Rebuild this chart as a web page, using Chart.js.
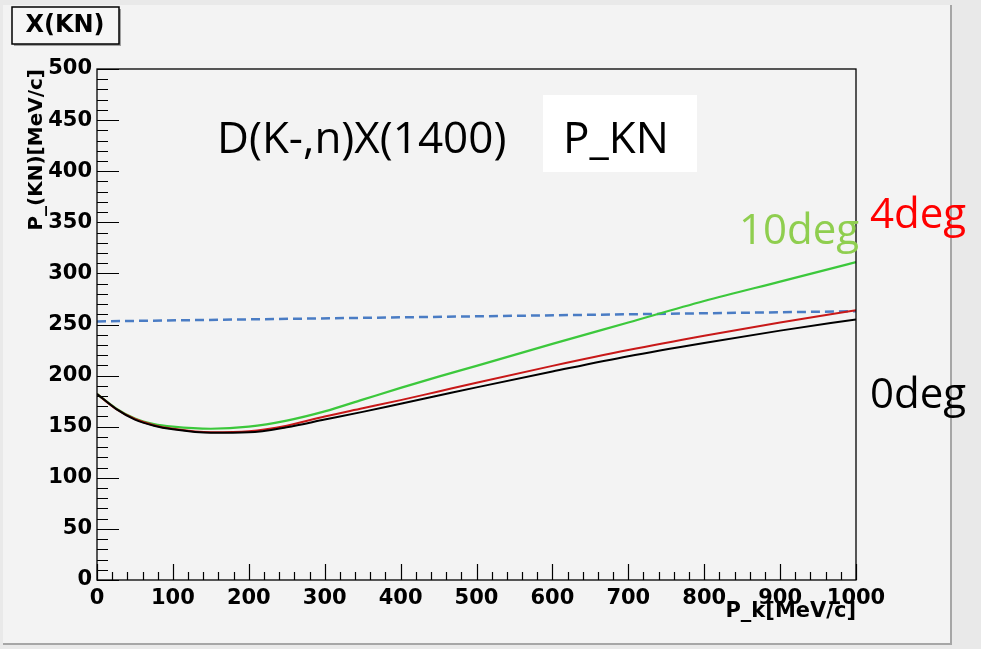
<!DOCTYPE html>
<html>
<head>
<meta charset="utf-8">
<script src="https://cdn.jsdelivr.net/npm/chart.js@4.4.1/dist/chart.umd.min.js"></script>
<style>
  html, body { margin: 0; padding: 0; background: #e9e9e9; }
  #wrap { position: relative; width: 981px; height: 649px; }
</style>
</head>
<body>
<div id="wrap"><canvas id="chart" width="981" height="649"></canvas></div>
<script>
// P_k [MeV/c] sample points
const pk = [0, 25, 50, 75, 100, 150, 200, 250, 300, 350, 400, 450, 500, 600, 700, 800, 900, 1000];
const p0deg = [182, 167.5, 157, 151, 147.5, 144, 144.5, 149.5, 157, 164.5, 172.5, 180.5, 188.5, 204, 219, 232, 244, 255];
const p4deg = [182, 167.5, 157.5, 151.5, 148, 144.5, 145.5, 151, 160, 168, 176, 184.5, 193, 209.5, 225, 239, 252, 264];
const p10deg = [182, 168, 158, 152.5, 150, 148, 150, 156, 165, 176.5, 188, 199, 209.5, 231, 252, 273, 292, 311];
// blue dashed reference line
const refX = [0, 1000];
const refY = [253, 263];

const yTicks = { min: 0, max: 500, step: 50, minor: 10 };
const xTicks = { min: 0, max: 1000, step: 100, minor: 20 };

const toPts = (xs, ys) => xs.map((x, i) => ({ x: x, y: ys[i] }));

const axisFont = { family: 'DejaVu Sans', weight: 'bold' };

// panel, frame, inward ROOT style ticks, text boxes
const rootStyle = {
  id: 'rootStyle',
  beforeDraw(chart) {
    const ctx = chart.ctx;
    ctx.save();
    ctx.fillStyle = '#f3f3f3';
    ctx.fillRect(3, 5, 947, 638);
    ctx.strokeStyle = '#a6a6a6';
    ctx.lineWidth = 2;
    ctx.beginPath();
    ctx.moveTo(951, 5); ctx.lineTo(951, 644); ctx.lineTo(3, 644);
    ctx.stroke();
    ctx.restore();
  },
  afterDraw(chart) {
    const ctx = chart.ctx;
    const a = chart.chartArea;
    const sx = chart.scales.x, sy = chart.scales.y;
    ctx.save();
    ctx.strokeStyle = '#000';
    ctx.lineWidth = 1.3;
    ctx.strokeRect(a.left, a.top, a.right - a.left, a.bottom - a.top);
    ctx.lineWidth = 1.2;
    ctx.beginPath();
    for (let v = yTicks.min; v <= yTicks.max; v += yTicks.minor) {
      const y = Math.round(sy.getPixelForValue(v)) + 0.5;
      const len = v % yTicks.step === 0 ? 22 : 11;
      ctx.moveTo(a.left, y); ctx.lineTo(a.left + len, y);
    }
    for (let v = xTicks.min; v <= xTicks.max; v += xTicks.minor) {
      const x = Math.round(sx.getPixelForValue(v)) + 0.5;
      const len = v % xTicks.step === 0 ? 16 : 8;
      ctx.moveTo(x, a.bottom); ctx.lineTo(x, a.bottom - len);
    }
    ctx.stroke();

    // histogram title box
    ctx.fillStyle = '#a0a0a0';
    ctx.fillRect(14, 9, 107, 37);
    ctx.fillStyle = '#f6f6f6';
    ctx.fillRect(12, 7, 107, 37);
    ctx.lineWidth = 1.5;
    ctx.strokeRect(12, 7, 107, 37);
    ctx.fillStyle = '#000';
    ctx.font = 'bold 24px "DejaVu Sans"';
    ctx.textAlign = 'center';
    ctx.textBaseline = 'middle';
    ctx.fillText('X(KN)', 65, 26);

    // annotations
    ctx.textAlign = 'left';
    ctx.textBaseline = 'alphabetic';
    ctx.font = '44px "Open Sans"';
    ctx.fillStyle = '#000';
    ctx.fillText('D(K-,n)X(1400)', 217, 153);
    ctx.fillStyle = '#ffffff';
    ctx.fillRect(543, 95, 154, 77);
    ctx.fillStyle = '#000';
    ctx.fillText('P_KN', 563, 153);
    ctx.font = '42px "Open Sans"';
    ctx.fillStyle = '#8fce4f';
    ctx.fillText('10deg', 739, 244);
    ctx.fillStyle = '#ff0000';
    ctx.fillText('4deg', 870, 228);
    ctx.fillStyle = '#000';
    ctx.fillText('0deg', 870, 408);
    ctx.restore();
  }
};

new Chart(document.getElementById('chart'), {
  type: 'line',
  data: {
    datasets: [
      { label: '0deg', data: toPts(pk, p0deg), borderColor: '#000000', borderWidth: 2 },
      { label: '4deg', data: toPts(pk, p4deg), borderColor: '#c81818', borderWidth: 2 },
      { label: '10deg', data: toPts(pk, p10deg), borderColor: '#3cc83c', borderWidth: 2.2 },
      { label: 'ref', data: toPts(refX, refY), borderColor: '#4a7cc4', borderWidth: 2.5, borderDash: [9, 5] }
    ]
  },
  options: {
    responsive: false,
    animation: false,
    events: [],
    layout: { padding: { left: 0, top: 69, right: 125, bottom: 0 } },
    elements: { point: { radius: 0 }, line: { cubicInterpolationMode: 'monotone', fill: false } },
    plugins: { legend: { display: false }, tooltip: { enabled: false } },
    scales: {
      x: {
        type: 'linear',
        min: xTicks.min, max: xTicks.max,
        grid: { display: false, drawTicks: false },
        border: { display: false },
        ticks: { stepSize: xTicks.step, padding: 6, color: '#000', font: { ...axisFont, size: 21 },
                 maxRotation: 0, autoSkip: false, callback: (v) => String(v) },
        title: { display: true, text: 'P_k[MeV/c]', align: 'end', color: '#000',
                 font: { ...axisFont, size: 21 }, padding: { top: 0, bottom: 25 } },
        afterFit(s) { s.height = 69; }
      },
      y: {
        min: yTicks.min, max: yTicks.max,
        grid: { display: false, drawTicks: false },
        border: { display: false },
        ticks: { stepSize: yTicks.step, padding: 5, color: '#000', font: { ...axisFont, size: 21 },
                 callback: (v) => String(v) },
        title: { display: true, text: 'P_(KN)[MeV/c]', align: 'end', color: '#000',
                 font: { ...axisFont, size: 20 }, padding: { top: 25, bottom: 0 } },
        afterFit(s) { s.width = 97; }
      }
    }
  },
  plugins: [rootStyle]
});
</script>
</body>
</html>
